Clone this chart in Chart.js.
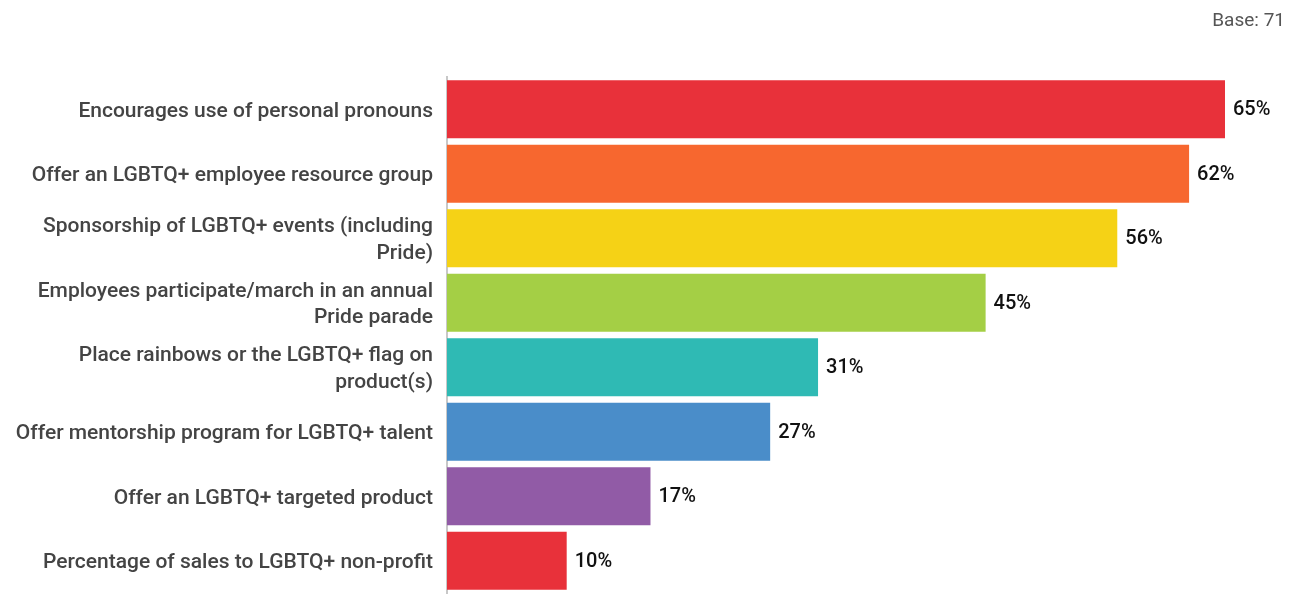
<!DOCTYPE html>
<html>
<head>
<meta charset="utf-8">
<script src="https://cdn.jsdelivr.net/npm/chart.js@4"></script>
<style>
    html, body { margin: 0; padding: 0; background: #fff; }
    #wrap { position: relative; width: 1296px; height: 596px; }
</style>
</head>
<body>
<div id="wrap"><canvas id="chart"></canvas></div>
<script>
// chart data
const categories = [
    ['Encourages use of personal pronouns'],
    ['Offer an LGBTQ+ employee resource group'],
    ['Sponsorship of LGBTQ+ events (including', 'Pride)'],
    ['Employees participate/march in an annual', 'Pride parade'],
    ['Place rainbows or the LGBTQ+ flag on', 'product(s)'],
    ['Offer mentorship program for LGBTQ+ talent'],
    ['Offer an LGBTQ+ targeted product'],
    ['Percentage of sales to LGBTQ+ non-profit']
];
const values = [65, 62, 56, 45, 31, 27, 17, 10];
const barColors = ['#E8313A', '#F7672F', '#F5D216', '#A4CF45', '#2FBAB4', '#4A8DC9', '#915BA6', '#E8313A'];
const baseText = 'Base: 71';

// value labels at the end of each bar + base note
const valueLabels = {
    id: 'valueLabels',
    afterDatasetsDraw(chart) {
        const ctx = chart.ctx;
        const meta = chart.getDatasetMeta(0);
        ctx.save();
        ctx.font = '500 20px Roboto';
        ctx.fillStyle = '#111';
        ctx.textBaseline = 'middle';
        ctx.textAlign = 'left';
        meta.data.forEach((bar, i) => {
            ctx.fillText(values[i] + '%', bar.x + 8, bar.y + 1);
        });
        ctx.font = '19px Roboto';
        ctx.fillStyle = '#555';
        ctx.textAlign = 'right';
        ctx.fillText(baseText, 1285, 21);
        ctx.restore();
    }
};

const ctx = document.getElementById('chart').getContext('2d');
const chart = new Chart(ctx, {
    type: 'bar',
    data: {
        labels: categories,
        datasets: [{
            data: values,
            backgroundColor: barColors,
            barPercentage: 0.9,
            categoryPercentage: 1.0
        }]
    },
    options: {
        indexAxis: 'y',
        responsive: true,
        maintainAspectRatio: false,
        animation: false,
        layout: {
            padding: { top: 77, bottom: 3, left: 0, right: 71 }
        },
        plugins: {
            legend: { display: false },
            tooltip: { enabled: false }
        },
        scales: {
            x: {
                min: 0,
                max: 65,
                display: false
            },
            y: {
                afterFit(scale) {
                    scale.width = 447;
                    scale.paddingTop = 0;
                    scale.paddingBottom = 0;
                },
                grid: { display: false, drawTicks: false },
                border: { display: true, color: '#c8c8c8', width: 2 },
                ticks: {
                    color: '#444',
                    padding: 14,
                    labelOffset: 2,
                    font: { family: 'Roboto', size: 21, weight: '500', lineHeight: 1.24 }
                }
            }
        }
    },
    plugins: [valueLabels]
});
</script>
</body>
</html>
